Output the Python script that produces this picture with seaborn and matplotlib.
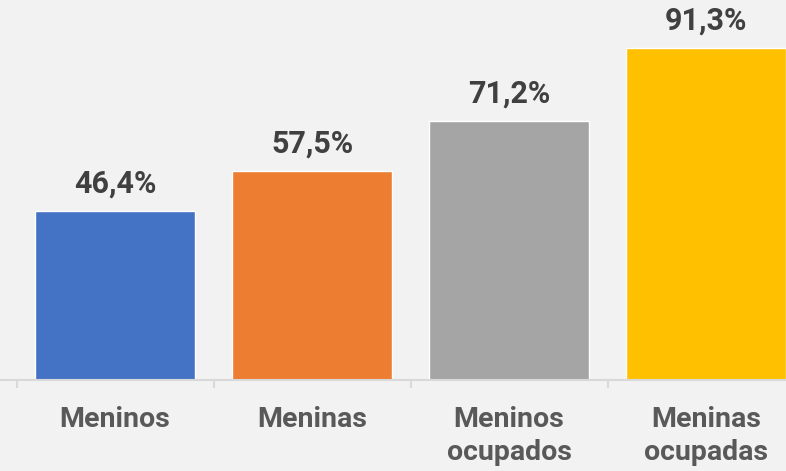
import matplotlib
matplotlib.use('Agg')
import matplotlib.pyplot as plt
import seaborn as sns

# dados do grafico
categorias = ['Meninos', 'Meninas', 'Meninos\nocupados', 'Meninas\nocupadas']
valores = [46.4, 57.5, 71.2, 91.3]
rotulos = ['46,4%', '57,5%', '71,2%', '91,3%']
cores = ['#4472C4', '#ED7D31', '#A5A5A5', '#FFC000']

sns.set_style('white')
plt.rcParams['font.family'] = ['Roboto', 'DejaVu Sans']

fig = plt.figure(figsize=(7.86, 4.71), dpi=100)
fig.patch.set_facecolor('#f2f2f2')
ax = fig.add_axes([0, 91 / 471, 1, 380 / 471])
ax.set_facecolor('#f2f2f2')

sns.barplot(x=categorias, y=valores, hue=categorias, palette=cores,
            legend=False, width=0.81, saturation=1, ax=ax)

for cont, rot in zip(ax.containers, rotulos):
    ax.bar_label(cont, labels=[rot], padding=9, fontsize=22,
                 fontweight='bold', color='#404040')

ax.set_xlim(-0.584, 3.406)
ax.set_ylim(0, 104.5)
ax.set_yticks([])
ax.set_xlabel('')
ax.set_ylabel('')

for s in ['top', 'left', 'right']:
    ax.spines[s].set_visible(False)
ax.spines['bottom'].set_color('#d9d9d9')
ax.spines['bottom'].set_linewidth(1.5)

ax.set_xticks([0, 1, 2, 3])
ax.set_xticklabels(categorias, fontsize=20.5, fontweight='bold', color='#595959',
                   linespacing=1.25)
ax.tick_params(axis='x', which='major', bottom=True, length=0, pad=19)
ax.set_xticks([-0.5, 0.5, 1.5, 2.5], minor=True)
ax.tick_params(axis='x', which='minor', bottom=True, length=6, width=1.5,
               color='#d9d9d9')

fig.savefig('out.png', dpi=100, facecolor=fig.get_facecolor())
